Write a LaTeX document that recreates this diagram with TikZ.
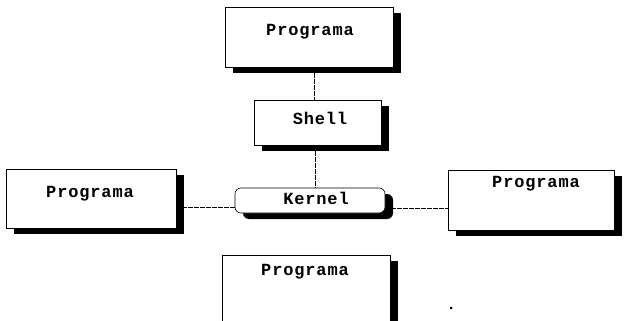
\documentclass[tikz,border=0pt]{standalone}
\usepackage{fontspec}
\newfontfamily\cour[LetterSpace=5]{Liberation Mono}
\usetikzlibrary{shadows,calc}
\tikzset{
  box/.style={draw=black, line width=0.6pt, fill=white, inner sep=0pt,
    general shadow={fill=black, shadow xshift=8pt, shadow yshift=-6pt}},
  lbl/.style={font=\cour\bfseries\fontsize{17}{17}\selectfont, inner sep=0pt, anchor=center},
  link/.style={line width=0.6pt, dash pattern=on 5pt off 1pt}
}
\begin{document}
\begin{tikzpicture}[x=1pt,y=-1pt]
\useasboundingbox (0,0) rectangle (627,321);
% boxes
\node[box, minimum width=168pt, minimum height=60pt] (top) at (309,37) {};
\node[box, minimum width=127pt, minimum height=45pt] (shell) at (317.5,122.5) {};
\node[box, rounded corners=6pt, minimum width=150pt, minimum height=25pt] (kern) at (310,200.5) {};
\node[box, minimum width=170pt, minimum height=59pt] (left) at (91,198.5) {};
\node[box, minimum width=166pt, minimum height=60pt] (right) at (531,200) {};
\node[box, minimum width=168pt, minimum height=70pt] (bot) at (306,290) {};
% labels
\node[lbl] (topt) at (310,32) {Programa};
\node[lbl] (shellt) at (320,118) {Shell};
\node[lbl] (kernt) at (316,198) {Kernel};
\node[lbl] (leftt) at (90,194) {Programa};
\node[lbl] (rightt) at (536,184) {Programa};
\node[lbl] (bott) at (305,272) {Programa};
% connectors
\draw[link] ([xshift=5pt]top.south) -- ([xshift=5pt]top.south |- shell.north);
\draw[link] ([xshift=-2.5pt]shell.south) -- ([xshift=-2.5pt]shell.south |- kern.north);
\coordinate (kl) at ([yshift=-7pt]kern.west);
\coordinate (kr) at ([yshift=-7.5pt]kern.east);
\draw[link] (kl -| left.east) -- (kl);
\draw[link] (kr) -- (kr -| right.west);
% stray dot
\node[circle, fill=black, inner sep=0pt, minimum size=3pt] (dot) at (451,308) {};
\end{tikzpicture}
\end{document}
